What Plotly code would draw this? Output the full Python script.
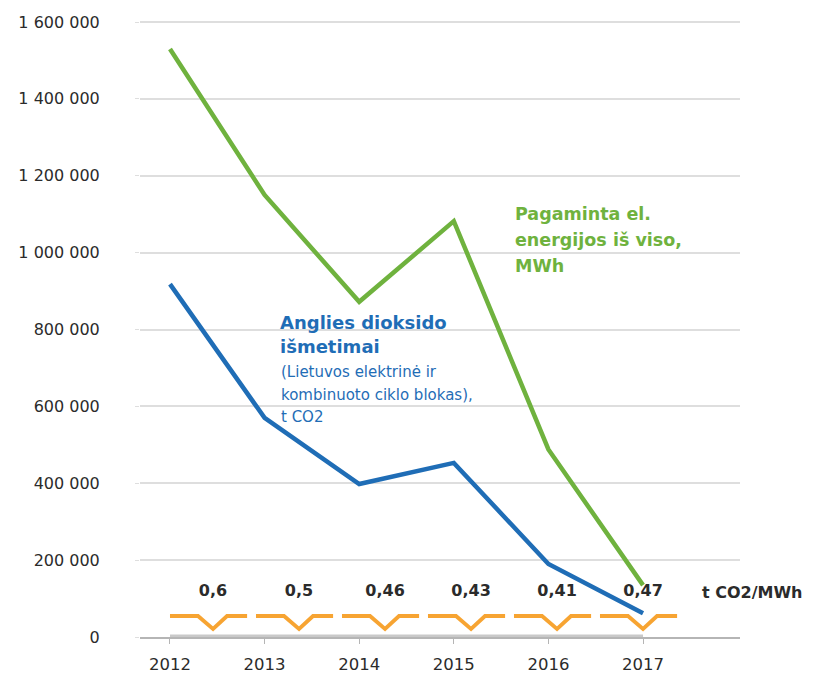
import plotly.graph_objects as go

years = [2012, 2013, 2014, 2015, 2016, 2017]
electricity_mwh = [1530000, 1150000, 872000, 1082000, 488000, 135000]
co2_t = [918000, 570000, 398000, 453000, 190000, 62000]
intensity = [0.6, 0.5, 0.46, 0.43, 0.41, 0.47]
intensity_labels = ["0,6", "0,5", "0,46", "0,43", "0,41", "0,47"]
y_ticks = [0, 200000, 400000, 600000, 800000, 1000000, 1200000, 1400000, 1600000]
y_ticktext = ["0", "200 000", "400 000", "600 000", "800 000", "1 000 000",
              "1 200 000", "1 400 000", "1 600 000"]

co2_title_bold = ["Anglies dioksido", "išmetimai"]
co2_title_note = ["(Lietuvos elektrinė ir", "kombinuoto ciklo blokas),", "t CO2"]
el_title = ["Pagaminta el.", "energijos iš viso,", "MWh"]
unit_label = "t CO2/MWh"

GREEN = "#6fb23e"
BLUE = "#1f6db6"
ORANGE = "#f7a432"
DARK = "#2b2b2b"
FONT = "DejaVu Sans"

fig = go.Figure()

# thick grey base bar along the years
fig.add_trace(go.Scatter(x=[years[0], years[-1]], y=[0, 0], mode="lines",
                         line=dict(color="#c9c9c9", width=5), hoverinfo="skip",
                         showlegend=False, cliponaxis=False))

# orange decorative intensity glyphs (one per year)
period = 0.909
level, dip = 54600, 20800
ox, oy = [], []
for i, v in enumerate(intensity):
    x0 = years[0] + i * period
    ox += [x0, x0 + 0.296, x0 + 0.455, x0 + 0.603, x0 + 0.815, None]
    oy += [level, level, dip, level, level, None]
fig.add_trace(go.Scatter(x=ox, y=oy, mode="lines",
                         line=dict(color=ORANGE, width=3.8), hoverinfo="skip",
                         showlegend=False, cliponaxis=False))

label_x = [years[0] + i * period + 0.455 for i in range(len(intensity))]
fig.add_trace(go.Scatter(x=label_x, y=[117000] * len(intensity), mode="text",
                         text=intensity_labels,
                         textfont=dict(family=FONT, size=16, color=DARK, weight="bold"),
                         hoverinfo="skip", showlegend=False, cliponaxis=False))

fig.add_trace(go.Scatter(x=years, y=electricity_mwh, mode="lines",
                         line=dict(color=GREEN, width=4.5), showlegend=False))
fig.add_trace(go.Scatter(x=years, y=co2_t, mode="lines",
                         line=dict(color=BLUE, width=4.5), showlegend=False))

# pixel helpers for annotation placement (0 at y=637, 1.6M at y=22, 2012 at x=170, 94.6 px/year)
def ydat(py):
    return (637 - py) / 615 * 1600000

def xdat(px):
    return 2012 + (px - 170) / 94.6

annotations = []
for txt, py in zip(co2_title_bold, [322, 346]):
    annotations.append(dict(x=xdat(278), y=ydat(py), text=txt,
                            font=dict(family=FONT, size=18, color=BLUE, weight="bold")))
for txt, py in zip(co2_title_note, [372, 395, 417]):
    annotations.append(dict(x=xdat(279), y=ydat(py), text=txt,
                            font=dict(family=FONT, size=15, color=BLUE)))
for txt, py in zip(el_title, [214, 240, 266]):
    annotations.append(dict(x=xdat(513), y=ydat(py), text=txt,
                            font=dict(family=FONT, size=17.5, color=GREEN, weight="bold")))
annotations.append(dict(x=xdat(700), y=117000, text=unit_label,
                        font=dict(family=FONT, size=16, color=DARK, weight="bold")))
for a in annotations:
    a.update(xref="x", yref="y", showarrow=False, align="left",
             xanchor="left", yanchor="middle")
fig.update_layout(annotations=annotations)

# page body has an 8px default margin, so the figure is 8px smaller on each side
fig.update_layout(
    width=808, height=671,
    margin=dict(l=132, r=76, t=10, b=42, autoexpand=False),
    paper_bgcolor="white", plot_bgcolor="white",
    font=dict(family=FONT, color=DARK),
    xaxis=dict(range=[2011.683, 2018.025], tickvals=years, ticktext=[str(y) for y in years],
               showgrid=False, zeroline=False, showline=True, linecolor="#b5b5b5",
               linewidth=1.5, ticks="outside", ticklen=5, tickcolor="#b5b5b5",
               tickfont=dict(family=FONT, size=16.5, color=DARK), ticklabelstandoff=6,
               automargin=False),
    yaxis=dict(range=[0, 619 / 615 * 1600000], tickvals=y_ticks, ticktext=y_ticktext,
               showgrid=True, gridcolor="#dedede", gridwidth=1.5, zeroline=False,
               showline=False, ticks="outside", ticklen=4, tickcolor="#dedede",
               tickfont=dict(family=FONT, size=16, color=DARK), ticklabelstandoff=32,
               automargin=False),
)

fig.write_html("out.html")
